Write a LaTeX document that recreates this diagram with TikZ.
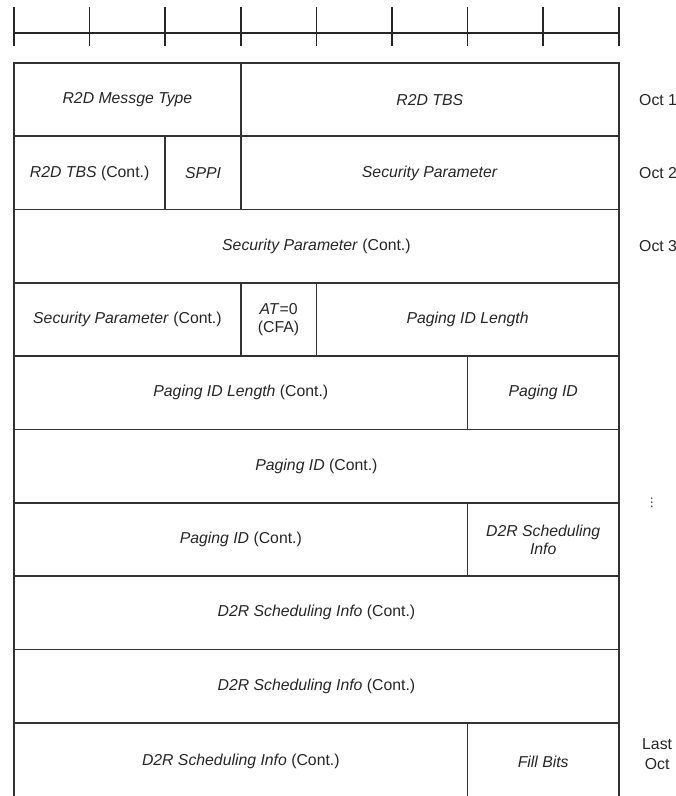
\documentclass[tikz,border=0pt]{standalone}
\usepackage{fontspec}
\setmainfont{Liberation Sans}
\newfontfamily\dotsfont{DejaVu Sans}
\usetikzlibrary{positioning}

\newlength{\bitw}\setlength{\bitw}{37.8pt}
\newlength{\rowh}\setlength{\rowh}{36.65pt}

\begin{document}
\begin{tikzpicture}
  [
  x=0.5pt,y=-0.5pt,
  field/.style={rectangle,draw=black!80,line width=0.8pt,inner sep=1pt,outer sep=0pt,minimum height=\rowh,align=center,text=black!85,font=\fontsize{7.9}{9}\selectfont},
  bits/.style={minimum width=#1*\bitw},
  octet/.style={text=black!85,inner sep=0pt,align=center,font=\fontsize{7.9}{10}\selectfont},
  tick/.style={draw=black!85,line width=0.8pt}
  ]
  \path[use as bounding box,clip] (0,0) rectangle (675,796);
  % bit ruler
  \draw[tick] (14,33) -- (618.4,33);
  \foreach \i in {0,...,8}
    \draw[tick] (14+\i*75.6,7) -- ++(0,39);
  % octet 1
  \node[field,bits=3,anchor=north west] (msg type) at (14,63) {\textit{R2D Messge Type}};
  \node[field,bits=5,right=0pt of msg type] (tbs) {\textit{R2D TBS}};
  % octet 2
  \node[field,bits=2,below right=0pt and 0pt of msg type.south west] (tbs cont) {\textit{R2D TBS} (Cont.)};
  \node[field,bits=1,right=0pt of tbs cont] (sppi) {\textit{SPPI}};
  \node[field,bits=5,right=0pt of sppi] (sec param) {\textit{Security Parameter}};
  % octet 3
  \node[field,bits=8,below right=0pt and 0pt of tbs cont.south west] (sec param 2) {\textit{Security Parameter} (Cont.)};
  % octet 4
  \node[field,bits=3,below right=0pt and 0pt of sec param 2.south west] (sec param 3) {\textit{Security Parameter} (Cont.)};
  \node[field,bits=1,right=0pt of sec param 3] (at) {\textit{AT}=0\\(CFA)};
  \node[field,bits=4,right=0pt of at] (pid length) {\textit{Paging ID Length}};
  % octet 5
  \node[field,bits=6,below right=0pt and 0pt of sec param 3.south west] (pid length cont) {\textit{Paging ID Length} (Cont.)};
  \node[field,bits=2,right=0pt of pid length cont] (pid) {\textit{Paging ID}};
  % octet 6
  \node[field,bits=8,below right=0pt and 0pt of pid length cont.south west] (pid cont) {\textit{Paging ID} (Cont.)};
  % octet 7
  \node[field,bits=6,below right=0pt and 0pt of pid cont.south west] (pid cont 2) {\textit{Paging ID} (Cont.)};
  \node[field,bits=2,right=0pt of pid cont 2] (sched) {\textit{D2R Scheduling}\\\textit{Info}};
  % octets 8 and 9
  \node[field,bits=8,below right=0pt and 0pt of pid cont 2.south west] (sched cont) {\textit{D2R Scheduling Info} (Cont.)};
  \node[field,bits=8,below right=0pt and 0pt of sched cont.south west] (sched cont 2) {\textit{D2R Scheduling Info} (Cont.)};
  % last octet (runs off the page)
  \node[field,bits=6,minimum height=39pt,below right=0pt and 0pt of sched cont 2.south west] (sched cont 3) {\textit{D2R Scheduling Info} (Cont.)};
  \node[field,bits=2,minimum height=39pt,right=0pt of sched cont 3] (fill) {\textit{Fill Bits}};
  % octet labels
  \node[octet,right=10pt of tbs] (oct 1) {Oct 1};
  \node[octet,right=10pt of sec param] (oct 2) {Oct 2};
  \node[octet,right=10pt of sec param 2] (oct 3) {Oct 3};
  \node[octet,font=\dotsfont\fontsize{6}{6}\selectfont] (more) at ([xshift=16.5pt]pid cont.south east) {⋮};
  \node[octet,right=11.5pt of fill,yshift=4pt] (last oct) {Last\\Oct};
\end{tikzpicture}
\end{document}
